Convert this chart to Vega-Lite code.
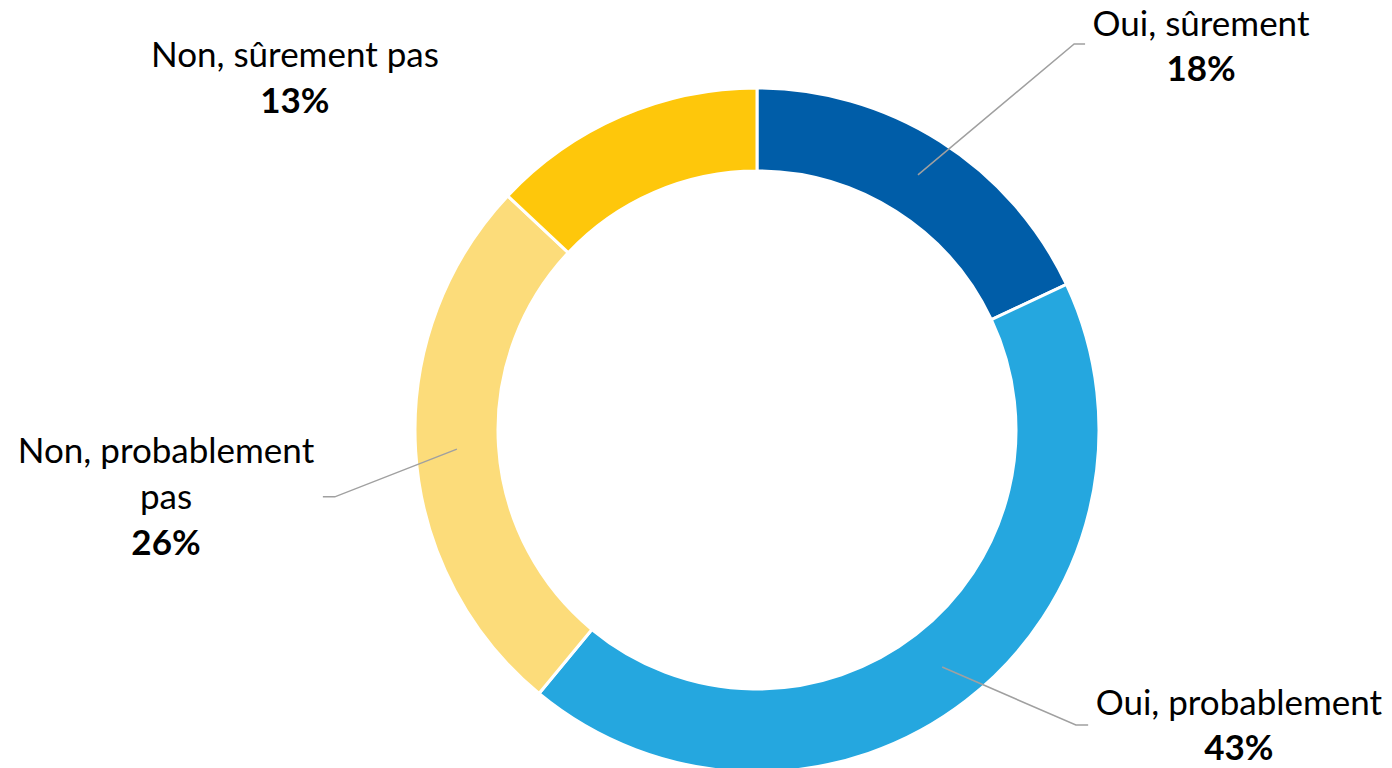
{
  "$schema": "https://vega.github.io/schema/vega-lite/v6.json",
  "width": 1270,
  "height": 676,
  "autosize": {"type": "none"},
  "padding": {"left": 122, "top": 92, "right": 0, "bottom": 0},
  "background": "white",
  "config": {"view": {"stroke": null}},
  "datasets": {
    "slices": [
      {"cat": "Oui, sûrement", "label": "Oui, sûrement", "value": 0.18, "ord": 1, "lx": 1.302, "ly": 1.155, "py": 1.023},
      {"cat": "Oui, probablement", "label": "Oui, probablement", "value": 0.43, "ord": 2, "lx": 1.413, "ly": -0.836, "py": -0.968},
      {"cat": "Non, probablement pas", "label": "Non, probablement\npas", "value": 0.26, "ord": 3, "lx": -1.733, "ly": -0.097, "py": -0.367},
      {"cat": "Non, sûrement pas", "label": "Non, sûrement pas", "value": 0.13, "ord": 4, "lx": -1.355, "ly": 1.065, "py": 0.930}
    ],
    "leaders": [
      {"cat": "Oui, sûrement", "i": 1, "x": 0.472, "y": 0.748},
      {"cat": "Oui, sûrement", "i": 2, "x": 0.930, "y": 1.132},
      {"cat": "Oui, sûrement", "i": 3, "x": 0.962, "y": 1.132},
      {"cat": "Oui, probablement", "i": 1, "x": 0.543, "y": -0.695},
      {"cat": "Oui, probablement", "i": 2, "x": 0.935, "y": -0.865},
      {"cat": "Oui, probablement", "i": 3, "x": 0.971, "y": -0.865},
      {"cat": "Non, probablement pas", "i": 1, "x": -0.880, "y": -0.056},
      {"cat": "Non, probablement pas", "i": 2, "x": -1.238, "y": -0.196},
      {"cat": "Non, probablement pas", "i": 3, "x": -1.273, "y": -0.196}
    ]
  },
  "layer": [
    {
      "data": {"name": "slices"},
      "mark": {"type": "arc", "outerRadius": 342, "innerRadius": 259, "stroke": "white", "strokeWidth": 3},
      "encoding": {
        "theta": {"field": "value", "type": "quantitative", "stack": true},
        "order": {"field": "ord", "type": "quantitative"},
        "color": {
          "field": "cat",
          "type": "nominal",
          "legend": null,
          "scale": {
            "domain": ["Oui, sûrement", "Oui, probablement", "Non, probablement pas", "Non, sûrement pas"],
            "range": ["#005DA8", "#25A7DF", "#FCDC7A", "#FEC70B"]
          }
        }
      }
    },
    {
      "data": {"name": "leaders"},
      "mark": {"type": "line", "color": "#A0A0A0", "strokeWidth": 1.5},
      "encoding": {
        "x": {"field": "x", "type": "quantitative", "axis": null, "scale": {"domain": [-1.862, 1.862], "nice": false, "zero": false}},
        "y": {"field": "y", "type": "quantitative", "axis": null, "scale": {"domain": [-0.991, 0.991], "nice": false, "zero": false}},
        "detail": {"field": "cat", "type": "nominal"},
        "order": {"field": "i", "type": "quantitative"}
      }
    },
    {
      "data": {"name": "slices"},
      "mark": {"type": "text", "font": "Lato", "fontSize": 35, "color": "#000000", "align": "center", "baseline": "alphabetic", "lineBreak": "\n", "lineHeight": 46},
      "encoding": {
        "x": {"field": "lx", "type": "quantitative"},
        "y": {"field": "ly", "type": "quantitative"},
        "text": {"field": "label", "type": "nominal"}
      }
    },
    {
      "data": {"name": "slices"},
      "mark": {"type": "text", "font": "Lato", "fontSize": 35, "fontWeight": "bold", "color": "#000000", "align": "center", "baseline": "alphabetic"},
      "encoding": {
        "x": {"field": "lx", "type": "quantitative"},
        "y": {"field": "py", "type": "quantitative"},
        "text": {"field": "value", "type": "quantitative", "format": ".0%"}
      }
    }
  ]
}
